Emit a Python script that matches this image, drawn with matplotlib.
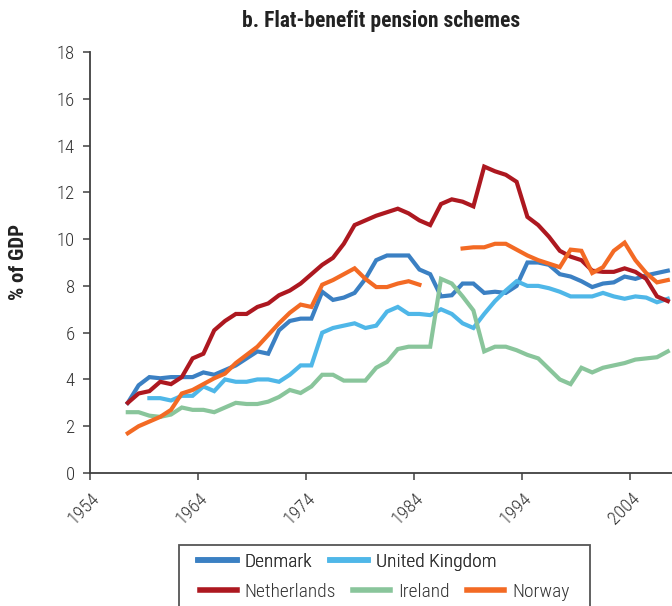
import numpy as np
import matplotlib
matplotlib.use("Agg")
import matplotlib.pyplot as plt
from matplotlib import font_manager as fm
from matplotlib.patches import Rectangle
from matplotlib.lines import Line2D
import matplotlib.transforms as mtransforms

# ---- data, % of GDP ----
years = np.arange(1957, 2008)

denmark = [3.0, 3.75, 4.1, 4.05, 4.1, 4.1, 4.1, 4.3, 4.2, 4.4,
           4.6, 4.9, 5.2, 5.1, 6.1, 6.5, 6.6, 6.6, 7.75, 7.4,
           7.5, 7.7, 8.3, 9.1, 9.3, 9.3, 9.3, 8.7, 8.5, 7.55,
           7.6, 8.1, 8.1, 7.7, 7.75, 7.7, 8.0, 9.0, 9.0, 8.9,
           8.5, 8.4, 8.2, 7.95, 8.1, 8.15, 8.4, 8.3, 8.45, 8.55,
           8.65]

uk = [None, None, 3.2, 3.2, 3.1, 3.3, 3.3, 3.7, 3.5, 4.0,
      3.9, 3.9, 4.0, 4.0, 3.9, 4.2, 4.6, 4.6, 6.0, 6.2,
      6.3, 6.4, 6.2, 6.3, 6.9, 7.1, 6.8, 6.8, 6.75, 7.0,
      6.8, 6.4, 6.2, 6.8, 7.35, 7.8, 8.2, 8.0, 8.0, 7.9,
      7.75, 7.55, 7.55, 7.55, 7.7, 7.55, 7.45, 7.55, 7.5, 7.3,
      7.45]

netherlands = [3.0, 3.4, 3.5, 3.9, 3.8, 4.1, 4.9, 5.1, 6.1, 6.5,
               6.8, 6.8, 7.1, 7.25, 7.6, 7.8, 8.1, 8.5, 8.9, 9.2,
               9.8, 10.6, 10.8, 11.0, 11.15, 11.3, 11.1, 10.8, 10.6, 11.5,
               11.7, 11.6, 11.4, 13.1, 12.9, 12.75, 12.45, 10.95, 10.6, 10.1,
               9.5, 9.25, 9.1, 8.65, 8.6, 8.6, 8.75, 8.6, 8.3, 7.55,
               7.35]

ireland = [2.6, 2.6, 2.45, 2.4, 2.5, 2.8, 2.7, 2.7, 2.6, 2.8,
           3.0, 2.95, 2.95, 3.05, 3.25, 3.55, 3.42, 3.7, 4.2, 4.2,
           3.95, 3.95, 3.95, 4.5, 4.75, 5.3, 5.4, 5.4, 5.4, 8.3,
           8.1, 7.55, 6.95, 5.2, 5.4, 5.4, 5.25, 5.05, 4.9, 4.45,
           4.0, 3.8, 4.5, 4.3, 4.5, 4.6, 4.7, 4.85, 4.9, 4.95,
           5.2]

norway = [1.7, 2.0, 2.2, 2.4, 2.7, 3.4, 3.55, 3.8, 4.05, 4.25,
          4.7, 5.05, 5.4, 5.9, 6.4, 6.85, 7.2, 7.1, 8.05, 8.25,
          8.5, 8.75, 8.3, 7.95, 7.95, 8.1, 8.2, 8.05, None, None,
          None, 9.6, 9.65, 9.65, 9.8, 9.8, 9.55, 9.3, 9.1, 8.95,
          8.8, 9.55, 9.5, 8.55, 8.8, 9.5, 9.85, 9.1, 8.55, 8.15,
          8.25]

countries = ["Denmark", "United Kingdom", "Netherlands", "Ireland", "Norway"]
series = [denmark, uk, netherlands, ireland, norway]
colors = ["#3B80C3", "#4FB7E8", "#AD1820", "#89C59B", "#F36A24"]

tick_years = [1954, 1964, 1974, 1984, 1994, 2004]
y_ticks = list(range(0, 19, 2))

# ---- fonts: prefer a narrow face like the original ----
have = {f.name for f in fm.fontManager.ttflist}
narrow = [n for n in ["Liberation Sans Narrow", "Roboto Condensed",
                      "Open Sans Condensed", "DejaVu Sans Condensed"] if n in have]
if narrow:
    fam = narrow[0]
    k = 1.0
else:
    fam = "Liberation Sans"
    k = 0.82
plt.rcParams["font.family"] = [fam, "DejaVu Sans"]
light = 300

txt = "#333333"
axc = "#404040"

fig = plt.figure(figsize=(6.72, 6.06), dpi=100)
ax = fig.add_axes([90 / 672, 133 / 606, 582 / 672, 421 / 606])

# excel-style category axis: points sit in the middle of each year slot
for name, vals, c in zip(countries, series, colors):
    v = np.array([np.nan if x is None else x for x in vals], dtype=float)
    ax.plot(years + 0.5, v, color=c, lw=3.0, label=name, solid_joinstyle="miter")

ax.set_xlim(1954, 1954 + 582 / 10.8)
ax.set_ylim(0, 18)
ax.set_yticks(y_ticks)
ax.set_yticklabels([str(t) for t in y_ticks], fontsize=13.5 * k,
                   color=txt, fontweight=light)
ax.set_xticks(tick_years)
ax.set_xticklabels([str(t) for t in tick_years], rotation=45, ha="center",
                   fontsize=13.5 * k, color=txt, fontweight=light)
ax.tick_params(axis="y", length=5, width=1.1, color=axc, pad=6)
ax.tick_params(axis="x", length=5, width=1.1, color=axc, pad=7)
off = mtransforms.ScaledTranslation(-0.06, 0, fig.dpi_scale_trans)
for lab in ax.get_xticklabels():
    lab.set_transform(lab.get_transform() + off)

for s in ["top", "right"]:
    ax.spines[s].set_visible(False)
for s in ["left", "bottom"]:
    ax.spines[s].set_color(axc)
    ax.spines[s].set_linewidth(1.3)

fig.text(381 / 672, 1 - 21 / 606, "b. Flat-benefit pension schemes",
         ha="center", va="center", fontsize=15.5 * k, fontweight="bold", color="#222222")
fig.text(18 / 672, 1 - 262 / 606, "% of GDP", rotation=90, ha="center",
         va="center", fontsize=15 * k, fontweight="bold", color="#222222")

# legend: two rows like the original, framed box running off the bottom
h = [Line2D([], [], color=c, lw=4) for c in colors]
lprops = {"size": 14 * k, "weight": light}
leg1 = fig.legend(h[:2], countries[:2], loc="center left",
                  bbox_to_anchor=(188 / 672, 1 - 562 / 606), ncol=2,
                  frameon=False, prop=lprops, handlelength=2.0,
                  handletextpad=0.4, columnspacing=0.9, borderpad=0,
                  labelcolor=txt)
leg2 = fig.legend(h[2:], countries[2:], loc="center left",
                  bbox_to_anchor=(190 / 672, 1 - 592 / 606), ncol=3,
                  frameon=False, prop=lprops, handlelength=1.9,
                  handletextpad=0.4, columnspacing=0.9, borderpad=0,
                  labelcolor=txt)
fig.add_artist(leg1)
fig.patches.append(Rectangle((179 / 672, -0.05), 411 / 672, 61 / 606 + 0.05,
                             transform=fig.transFigure, fill=False,
                             ec="#555555", lw=1.3))

fig.savefig("out.png", dpi=100)
